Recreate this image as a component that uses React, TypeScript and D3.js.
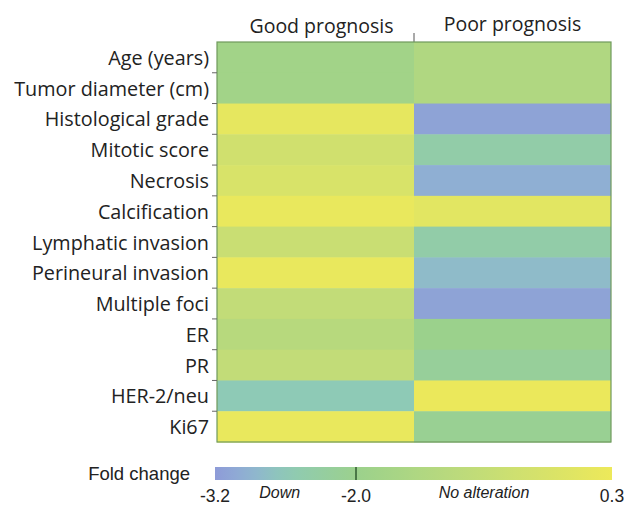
import * as d3 from "d3";

const features = [
  "Age (years)",
  "Tumor diameter (cm)",
  "Histological grade",
  "Mitotic score",
  "Necrosis",
  "Calcification",
  "Lymphatic invasion",
  "Perineural invasion",
  "Multiple foci",
  "ER",
  "PR",
  "HER-2/neu",
  "Ki67",
];
const groups = ["Good prognosis", "Poor prognosis"];
const goodValues = [-1.8, -1.8, 0.1, -0.5, -0.3, 0.2, -0.7, 0.2, -0.9, -1.2, -0.9, -2.6, 0.2];
const poorValues = [-1.4, -1.4, -3.1, -2.4, -2.95, 0.0, -2.4, -2.8, -3.1, -2.0, -2.2, 0.25, -2.1];
const legendTicks = [-3.2, -2.0, 0.3];
const legendNotes = [
  { label: "Down", at: -2.65 },
  { label: "No alteration", at: -0.85 },
];

const W = 624;
const H = 506;
const left = 217;
const right = 611;
const top = 42;
const bottom = 442;

export default function App() {
  const x = d3.scaleBand<string>().domain(groups).range([left, right]);
  const y = d3.scaleBand<string>().domain(features).range([top, bottom]);

  const color = d3
    .scaleLinear<string>()
    .domain([-3.2, -2.9, -2.6, -2.0, -0.9, 0.3])
    .range(["#8e9bd8", "#8fb3d2", "#8ecab6", "#9bd18c", "#c2dc78", "#ede95a"])
    .interpolate(d3.interpolateRgb)
    .clamp(true);

  // legend scale: -2.0 sits a bit right of linear position
  const lx = d3.scaleLinear().domain([-3.2, -2.0, 0.3]).range([215, 356, 612]);

  const cells = groups.flatMap((g, gi) =>
    features.map((f, fi) => ({ g, f, v: (gi === 0 ? goodValues : poorValues)[fi] }))
  );

  const stops = d3.range(0, 21).map((i) => {
    const v = -3.2 + (i / 20) * 3.5;
    return { off: (lx(v) - 215) / (612 - 215), c: color(v) };
  });

  const labelFont = "'Open Sans', sans-serif";
  const legendFont = "'Liberation Sans', Arial, sans-serif";

  return (
    <svg width={W} height={H} style={{ position: "absolute", left: 0, top: 0, background: "#fff" }}>
      <defs>
        <linearGradient id="fc" x1="0" x2="1" y1="0" y2="0">
          {stops.map((s, i) => (
            <stop key={i} offset={s.off} stopColor={s.c} />
          ))}
        </linearGradient>
      </defs>

      {/* column headers */}
      {groups.map((g, i) => (
        <text
          key={g}
          x={x(g)! + x.bandwidth() / 2 + (i === 0 ? 6 : 0)}
          y={i === 0 ? 33 : 31}
          textAnchor="middle"
          fontFamily={labelFont}
          fontSize={19.5}
          fill="#222"
        >
          {g}
        </text>
      ))}
      <line x1={x(groups[1])} x2={x(groups[1])} y1={33} y2={top} stroke="#555" strokeWidth={1} />

      {/* cells */}
      {cells.map((d) => (
        <rect
          key={d.g + d.f}
          x={x(d.g)}
          y={y(d.f)}
          width={x.bandwidth()}
          height={y.bandwidth() + 0.5}
          fill={color(d.v)}
        />
      ))}
      <rect
        x={left}
        y={top}
        width={right - left}
        height={bottom - top}
        fill="none"
        stroke="#6f9a5c"
        strokeWidth={1.2}
      />

      {/* row ticks and labels */}
      {features.map((f, i) => (
        <g key={f}>
          {i > 0 && (
            <line x1={212} x2={left} y1={y(f)} y2={y(f)} stroke="#666" strokeWidth={1} />
          )}
          <text
            x={209}
            y={y(f)! + y.bandwidth() / 2}
            dy="0.38em"
            textAnchor="end"
            fontFamily={labelFont}
            fontSize={19.8}
            fill="#222"
          >
            {f}
          </text>
        </g>
      ))}

      {/* legend */}
      <text x={190} y={480} textAnchor="end" fontFamily={legendFont} fontSize={18.5} fill="#222">
        Fold change
      </text>
      <rect x={lx(-3.2)} y={467} width={lx(0.3) - lx(-3.2)} height={13} fill="url(#fc)" />
      <line x1={lx(-2.0)} x2={lx(-2.0)} y1={467} y2={480} stroke="#2f5a2f" strokeWidth={1.5} />
      {legendTicks.map((t) => (
        <text
          key={t}
          x={lx(t)}
          y={501.5}
          textAnchor="middle"
          fontFamily={legendFont}
          fontSize={17.5}
          fill="#222"
        >
          {t.toFixed(1)}
        </text>
      ))}
      {legendNotes.map((n) => (
        <text
          key={n.label}
          x={lx(n.at)}
          y={498}
          textAnchor="middle"
          fontFamily={legendFont}
          fontStyle="italic"
          fontSize={16}
          fill="#222"
        >
          {n.label}
        </text>
      ))}
    </svg>
  );
}
